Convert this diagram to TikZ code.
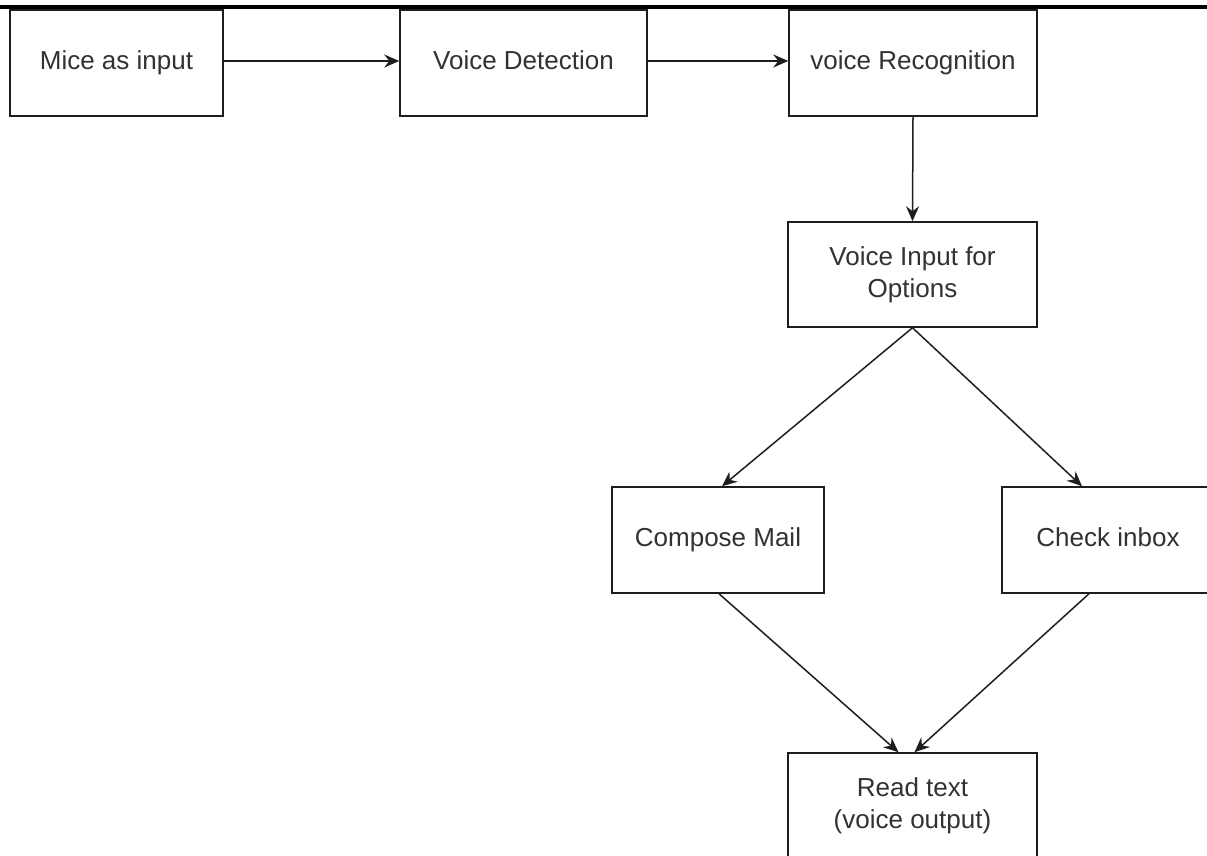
\documentclass[tikz,border=0pt]{standalone}
\usepackage{fontspec}
\setmainfont{Liberation Sans}
\usetikzlibrary{arrows.meta,calc}
\definecolor{txt}{RGB}{50,50,50}
\definecolor{ln}{RGB}{30,30,30}
\tikzset{
  box/.style={draw=ln, line width=1.5pt, rectangle, inner sep=0pt, align=center,
    text=txt, font=\fontsize{26}{32}\selectfont},
  oneline/.style={text height=19pt, text depth=6pt},
  arr/.style={draw=ln, line width=1.5pt, -{Stealth[length=15pt,width=13pt,inset=5pt]}},
}
\begin{document}
\begin{tikzpicture}[x=1pt,y=-1pt]
\useasboundingbox (0,0) rectangle (1207,856);
\fill[white] (0,0) rectangle (1207,856);
\draw[black, line width=3.2pt] (0,7) -- (1207,7);
\node[box, oneline, minimum width=213pt, minimum height=106pt] (mice) at (116.5,63) {Mice as input};
\node[box, oneline, minimum width=247pt, minimum height=106pt] (vd) at (523.5,63) {Voice Detection};
\node[box, oneline, minimum width=248pt, minimum height=106pt] (vr) at (913,63) {voice Recognition};
\node[box, minimum width=249pt, minimum height=105pt] (vi) at (912.5,274.5) {Voice Input for\\Options};
\node[box, oneline, minimum width=212pt, minimum height=106pt] (cm) at (718,540) {Compose Mail};
\node[box, oneline, minimum width=212pt, minimum height=106pt] (ci) at (1108,540) {Check inbox};
\node[box, minimum width=249pt, minimum height=106pt] (rt) at (912.5,806) {Read text\\(voice output)};
\draw[arr] ([yshift=2pt]mice.east) -- ([yshift=2pt]vd.west);
\draw[arr] ([yshift=2pt]vd.east) -- ([yshift=2pt]vr.west);
\draw[arr] (vr.south) -- (vi.north);
\draw[arr] (vi.south) -- ([xshift=4pt]cm.north);
\draw[arr] (vi.south) -- ([xshift=-26pt]ci.north);
\draw[arr] ([xshift=1pt]cm.south) -- ([xshift=-14pt]rt.north);
\draw[arr] ([xshift=-19pt]ci.south) -- ([xshift=2pt]rt.north);
\end{tikzpicture}
\end{document}
